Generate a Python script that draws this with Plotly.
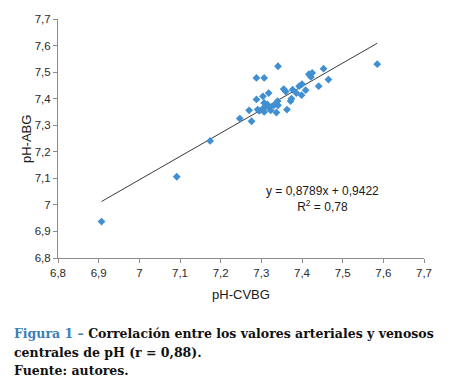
import plotly.graph_objects as go

# pH-CVBG (x) and pH-ABG (y) values
ph_cvbg = [6.907, 7.092, 7.174, 7.247, 7.276, 7.270, 7.291, 7.295, 7.288, 7.288, 7.303,
           7.304, 7.307, 7.307, 7.307, 7.310, 7.315, 7.318, 7.319, 7.323, 7.331, 7.337,
           7.340, 7.341, 7.341, 7.355, 7.360, 7.363, 7.372, 7.374, 7.377, 7.386, 7.393,
           7.399, 7.400, 7.409, 7.417, 7.422, 7.425, 7.441, 7.453, 7.465, 7.585]
ph_abg = [6.937, 7.106, 7.241, 7.325, 7.315, 7.356, 7.359, 7.354, 7.397, 7.478, 7.361,
          7.409, 7.384, 7.350, 7.478, 7.369, 7.378, 7.421, 7.367, 7.356, 7.375, 7.348,
          7.391, 7.375, 7.522, 7.436, 7.427, 7.359, 7.391, 7.400, 7.434, 7.421, 7.447,
          7.413, 7.455, 7.432, 7.492, 7.482, 7.497, 7.447, 7.513, 7.472, 7.530]

slope = 0.8789
intercept = 0.9422
r_squared = 0.78

x_ticks = [6.8, 6.9, 7.0, 7.1, 7.2, 7.3, 7.4, 7.5, 7.6, 7.7]
y_ticks = [6.8, 6.9, 7.0, 7.1, 7.2, 7.3, 7.4, 7.5, 7.6, 7.7]


def fmt(v):
    s = ("%.1f" % v).replace(".", ",")
    return s[:-2] if s.endswith(",0") else s


x_labels = [fmt(v) for v in x_ticks]
y_labels = [fmt(v) for v in y_ticks]

trend_x = [min(ph_cvbg), max(ph_cvbg)]
trend_y = [slope * v + intercept for v in trend_x]

# page body adds an 8px offset; plot area target (page px): x 58..424, y 19..258
OFF = 8
W, H = 450 - OFF, 384 - OFF
L, R_EDGE, T, B_EDGE = 58 - OFF, 424 - OFF, 19 - OFF, 258 - OFF

fig = go.Figure()
fig.add_trace(go.Scatter(x=trend_x, y=trend_y, mode="lines",
                         line=dict(color="#3a3a3a", width=1), hoverinfo="skip"))
fig.add_trace(go.Scatter(x=ph_cvbg, y=ph_abg, mode="markers",
                         marker=dict(symbol="diamond", size=6, color="#3f8fd2")))

axis_font = dict(family="Liberation Sans, Arial, sans-serif", size=11.5, color="#2a2a2a")
title_font = dict(family="Liberation Sans, Arial, sans-serif", size=13, color="#1a1a1a")

fig.update_layout(
    width=W, height=H,
    margin=dict(l=L, r=W - R_EDGE, t=T, b=H - B_EDGE, autoexpand=False),
    paper_bgcolor="white", plot_bgcolor="white",
    showlegend=False,
    xaxis=dict(range=[6.8, 7.7], tickvals=x_ticks, ticktext=x_labels,
               showgrid=False, zeroline=False, showline=True, linecolor="#8c8c8c",
               linewidth=1, ticks="outside", ticklen=4, tickcolor="#8c8c8c",
               tickfont=axis_font,
               title=dict(text="pH-CVBG", font=title_font, standoff=12)),
    yaxis=dict(range=[6.8, 7.7], tickvals=y_ticks, ticktext=y_labels,
               showgrid=False, zeroline=False, showline=True, linecolor="#8c8c8c",
               linewidth=1, ticks="outside", ticklen=4, tickcolor="#8c8c8c",
               tickfont=axis_font),
)

plot_h = B_EDGE - T
plot_w = R_EDGE - L


def py(pix):
    return (B_EDGE - (pix - OFF)) / plot_h


def px(pix):
    return ((pix - OFF) - L) / plot_w


# y-axis title placed next to the tick labels
fig.add_annotation(xref="paper", yref="paper", x=px(26), y=py(139), xanchor="center", yanchor="middle",
                   textangle=-90, showarrow=False, text="pH-ABG", font=title_font)

eq_text = "y = %sx + %s<br>R<sup>2</sup> = %s" % (
    ("%.4f" % slope).replace(".", ","), ("%.4f" % intercept).replace(".", ","),
    ("%.2f" % r_squared).replace(".", ","))
fig.add_annotation(x=7.45, y=7.022, xref="x", yref="y", text=eq_text, showarrow=False,
                   align="center", font=dict(family="Liberation Sans, Arial, sans-serif", size=12, color="#1a1a1a"))

cap_font = dict(family="DejaVu Serif, Liberation Serif, serif", size=12.5, color="#111111")
fig.add_annotation(xref="paper", yref="paper", x=px(12), y=py(333), xanchor="left", yanchor="middle",
                   showarrow=False, align="left", font=cap_font,
                   text="<b><span style='color:#3c7fb8'>Figura 1 –</span> Correlación entre los valores arteriales y venosos</b>")
fig.add_annotation(xref="paper", yref="paper", x=px(12), y=py(352), xanchor="left", yanchor="middle",
                   showarrow=False, align="left", font=cap_font,
                   text="<b>centrales de pH (r = 0,88).</b>")
fig.add_annotation(xref="paper", yref="paper", x=px(12), y=py(370), xanchor="left", yanchor="middle",
                   showarrow=False, align="left", font=cap_font,
                   text="<b>Fuente: autores.</b>")

fig.write_html("out.html")
